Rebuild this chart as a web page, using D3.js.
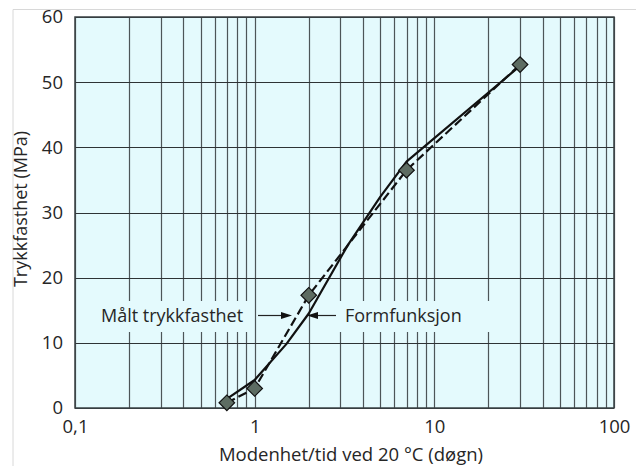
<!DOCTYPE html>
<html><head><meta charset="utf-8">
<script src="https://cdn.jsdelivr.net/npm/d3@7"></script>
<style>body{margin:0;background:#fff} svg{display:block}</style>
</head><body>
<svg id="c" width="636" height="466"></svg>
<script>
// ---- data ----
const xTicks = [0.1, 1, 10, 100];
const xTickLabels = ["0,1", "1", "10", "100"];
const yTicks = [0, 10, 20, 30, 40, 50, 60];
const measuredX = [0.7, 1, 2, 7, 30];          // Målt trykkfasthet
const measuredY = [0.8, 3, 17.3, 36.5, 52.7];
const modelX = [0.7, 1, 1.5, 2, 3.3, 5, 7, 30]; // Formfunksjon
const modelY = [1.4, 4.3, 9.8, 14.5, 25, 32.4, 37.8, 52.5];
const labelMeasured = "Målt trykkfasthet";
const labelModel = "Formfunksjon";
const xTitle = "Modenhet/tid ved 20 °C (døgn)";
const yTitle = "Trykkfasthet (MPa)";

const svg = d3.select("#c");
const L = 75, R = 614, T = 17, B = 408;
const x = d3.scaleLog().domain([0.1, 100]).range([L, R]);
const y = d3.scaleLinear().domain([0, 60]).range([B, T]);
const font = "'Open Sans', 'Noto Sans', sans-serif";
const bg = "#e4fafd";
const txt = "#262626";

// outer frame
svg.append("path").attr("d", "M13,466 L13,9.5 L636,9.5").attr("fill", "none").attr("stroke", "#d8d8d8").attr("stroke-width", 1);

// plot background
svg.append("rect").attr("x", L).attr("y", T).attr("width", R - L).attr("height", B - T).attr("fill", bg);

// vertical grid
svg.append("g").selectAll("line").data(x.ticks()).join("line")
  .attr("x1", d => Math.round(x(d)) + 0.5).attr("x2", d => Math.round(x(d)) + 0.5)
  .attr("y1", T).attr("y2", B).attr("stroke", "#4d5558").attr("stroke-width", 1.2);
// horizontal grid
svg.append("g").selectAll("line").data(yTicks).join("line")
  .attr("x1", L).attr("x2", R)
  .attr("y1", d => Math.round(y(d)) + 0.5).attr("y2", d => Math.round(y(d)) + 0.5)
  .attr("stroke", "#2e3335").attr("stroke-width", 1.2);

// text backgrounds (mask grid behind annotation labels)
svg.append("rect").attr("x", 96).attr("y", 301).attr("width", 156).attr("height", 31).attr("fill", bg);
svg.append("rect").attr("x", 338).attr("y", 301).attr("width", 170).attr("height", 31).attr("fill", bg);

// border
svg.append("rect").attr("x", L).attr("y", T).attr("width", R - L).attr("height", B - T)
  .attr("fill", "none").attr("stroke", "#3a4244").attr("stroke-width", 1.5);

// axes labels
const yAxis = d3.axisLeft(y).tickValues(yTicks).tickSize(0).tickPadding(12);
const gy = svg.append("g").attr("transform", `translate(${L},0)`).call(yAxis);
gy.select(".domain").remove();
gy.selectAll("text").attr("font-family", font).attr("font-size", 18.5).attr("fill", txt);

const xAxis = d3.axisBottom(x).tickValues(xTicks).tickFormat((d, i) => xTickLabels[i]).tickSize(0).tickPadding(12);
const gx = svg.append("g").attr("transform", `translate(0,${B})`).call(xAxis);
gx.select(".domain").remove();
gx.selectAll("text").attr("font-family", font).attr("font-size", 18.5).attr("fill", txt);

svg.append("text").attr("x", 351).attr("y", 461).attr("text-anchor", "middle")
  .attr("font-family", font).attr("font-size", 18.5).attr("fill", txt).text(xTitle);
svg.append("text").attr("transform", "translate(27,209) rotate(-90)").attr("text-anchor", "middle")
  .attr("font-family", font).attr("font-size", 18).attr("fill", txt).text(yTitle);

// lines
const measured = measuredX.map((v, i) => [v, measuredY[i]]);
const model = modelX.map((v, i) => [v, modelY[i]]);
const line = d3.line().x(d => x(d[0])).y(d => y(d[1]));
svg.append("path").attr("d", line(model)).attr("fill", "none").attr("stroke", "#111")
  .attr("stroke-width", 2.2).attr("stroke-linejoin", "round");
svg.append("path").attr("d", line(measured))
  .attr("fill", "none").attr("stroke", "#111").attr("stroke-width", 2.2).attr("stroke-dasharray", "9,4");

// markers
svg.append("g").selectAll("path").data(measured).join("path")
  .attr("d", d3.symbol(d3.symbolSquare, 121)())
  .attr("transform", d => `translate(${x(d[0])},${y(d[1])}) rotate(45)`)
  .attr("fill", "#5d6c62").attr("stroke", "#111").attr("stroke-width", 1.2);

// annotation
const ay = 315.5;
svg.append("text").attr("x", 101).attr("y", ay + 6.5).attr("font-family", font).attr("font-size", 18).attr("fill", txt).text(labelMeasured);
svg.append("text").attr("x", 345).attr("y", ay + 6.5).attr("font-family", font).attr("font-size", 18).attr("fill", txt).text(labelModel);
svg.append("line").attr("x1", 258).attr("x2", 284).attr("y1", ay).attr("y2", ay).attr("stroke", "#222").attr("stroke-width", 1.2);
svg.append("path").attr("d", `M292,${ay} L281,${ay-3.5} L281,${ay+3.5} Z`).attr("fill", "#111");
svg.append("line").attr("x1", 315).attr("x2", 336).attr("y1", ay).attr("y2", ay).attr("stroke", "#222").attr("stroke-width", 1.2);
svg.append("path").attr("d", `M307,${ay} L318,${ay-3.5} L318,${ay+3.5} Z`).attr("fill", "#111");
</script>
</body></html>
